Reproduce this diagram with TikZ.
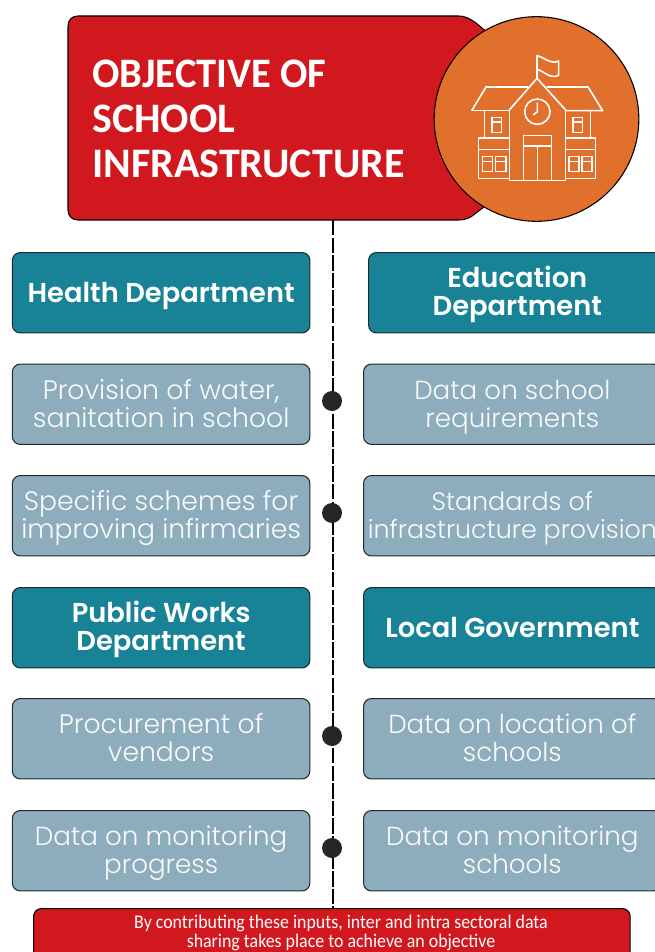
\documentclass[tikz,border=0pt]{standalone}
\usepackage{fontspec}
\setmainfont{Poppins Light}[BoldFont=Poppins SemiBold]
\newfontfamily\titlefont{Carlito}
\newfontfamily\footfont[FakeStretch=0.925]{Carlito}
\definecolor{redfill}{HTML}{D1181F}
\definecolor{tealfill}{HTML}{188296}
\definecolor{greyfill}{HTML}{8EADBC}
\definecolor{orangefill}{HTML}{E2702D}
\definecolor{edgeink}{HTML}{1F2A30}
\newcommand{\ts}{\rule{0pt}{1.01\baselineskip}}
\newcommand{\tsone}{\rule{0pt}{1.05\baselineskip}}
\newcommand{\botstrut}{\rule[-0.35\baselineskip]{0pt}{0.35\baselineskip}}
\tikzset{
  px/.style={x=0.75pt,y=-0.75pt},
  cardbase/.style={draw=edgeink,line width=0.8pt,rounded corners=6pt,inner sep=0pt,align=center,text=white,anchor=north west,minimum width=223.2pt,minimum height=60.3pt,execute at end node=\botstrut},
  headcard/.style={cardbase,fill=tealfill,font=\fontsize{20.5}{21}\selectfont\bfseries},
  infocard/.style={cardbase,fill=greyfill,font=\fontsize{20}{21}\selectfont,text=white!94!greyfill},
  infotight/.style={infocard,font=\fontsize{19.6}{21}\selectfont},
  spine/.style={line width=1.7pt,dash pattern=on 11.5pt off 1.7pt},
  spinedot/.style={circle,fill=black!85,draw=none,minimum size=15pt,inner sep=0pt},
  icon/.style={draw=white,line width=1.2pt,line join=round,fill=none},
}
\begin{document}
\begin{tikzpicture}[px]
\useasboundingbox (0,0) rectangle (655,952);
% title panel
\draw[draw=black,line width=0.8pt,fill=redfill] (78,16) -- (458,16) .. controls (466,16) and (470,19) .. (476,23) -- (520,60) -- (520,180) -- (476,213) .. controls (470,218) and (466,220) .. (458,220) -- (78,220) .. controls (72,220) and (68,216) .. (68,210) -- (68,26) .. controls (68,20) and (72,16) .. (78,16) -- cycle;
\coordinate (spineTop) at (333,220);
\node[anchor=west,align=left,text=white,inner sep=0pt,font=\titlefont\fontsize{31.5}{33.5}\selectfont\bfseries] (title) at (92,119) {\scalebox{0.965}[1]{OBJECTIVE OF}\\SCHOOL\\INFRASTRUCTURE};
\node[circle,draw=black,line width=0.8pt,fill=orangefill,minimum size=153.5pt,inner sep=0pt] (badge) at (536.5,119) {};
% footer
\begin{scope}
\clip (0,0) rectangle (655,952);
\node[cardbase,fill=redfill,draw=black,minimum width=447.5pt,minimum height=45pt,execute at end node={}] (foot) at (33,908) {};
\end{scope}
\node[align=center,text=white,inner sep=0pt,font=\footfont\fontsize{14.5}{13.6}\selectfont] (footText) at (341,933) {By contributing these inputs, inter and intra sectoral data\\sharing takes place to achieve an objective};
% spine
\draw[spine] (spineTop) -- (foot.north -| spineTop);
% cards
\begin{scope}
\clip (0,0) rectangle (655,952);
\node[headcard] (health) at (11.8,252) {\tsone Health Department};
\node[infocard] (water) at (11.8,363.5) {\ts Provision of water,\\sanitation in school};
\node[infocard] (schemes) at (11.8,475) {\ts Specific schemes for\\improving infirmaries};
\node[headcard] (works) at (11.8,587) {\ts Public Works\\Department};
\node[infocard] (vendors) at (11.8,698) {\ts Procurement of\\vendors};
\node[infotight] (progress) at (11.8,810) {\ts Data on monitoring\\progress};
\node[headcard] (edu) at (368,252) {\ts Education\\Department};
\node[infotight] (reqs) at (363,363.5) {\ts Data on school\\requirements};
\node[infocard,font=\fontsize{19}{21}\selectfont] (standards) at (363,475) {\ts Standards of\\infrastructure provision};
\node[headcard] (local) at (363,587) {\tsone Local Government};
\node[infotight] (location) at (363,698) {\ts Data on location of\\schools};
\node[infotight] (monitor) at (363,810) {\ts Data on monitoring\\schools};
\end{scope}
% dots
\node[spinedot] (d1) at (332,401) {};
\node[spinedot] (d2) at (332,513) {};
\node[spinedot] (d3) at (332,736) {};
\node[spinedot] (d4) at (332,848) {};
% school icon (units: 3 per pixel)
\begin{scope}[shift={(420,0)},x=0.25pt,y=-0.25pt,icon]
\draw (155,332) -- (198,261) -- (325,261);
\draw (380,261) -- (504,261) -- (548,332) -- (437,332);
\draw (155,332) -- (268,332);
\draw (268,330) -- (351,235) -- (437,330);
\draw (268,330) -- (268,542) -- (437,542) -- (437,330);
\draw (351,235) -- (351,167) .. controls (375,172) and (390,195) .. (416,183) -- (416,226) .. controls (390,238) and (375,215) .. (351,208);
\draw (352,335) circle (38);
\draw (352,308) -- (352,335) -- (340,345);
\draw (193,332) -- (193,414);
\draw (511,332) -- (511,414);
\draw (176,414) rectangle (268,536);
\draw (176,448) -- (268,448);
\draw (437,414) rectangle (527,536);
\draw (437,448) -- (527,448);
\draw (216,352) rectangle (245,397);
\draw (216,366) -- (245,366);
\draw (459,352) rectangle (488,397);
\draw (459,366) -- (488,366);
\draw (188,470) rectangle (218,514);
\draw (188,484) -- (218,484);
\draw (227,470) rectangle (258,514);
\draw (227,484) -- (258,484);
\draw (447,470) rectangle (477,514);
\draw (447,484) -- (477,484);
\draw (486,470) rectangle (516,514);
\draw (486,484) -- (516,484);
\draw (311,542) -- (311,406) -- (395,406) -- (395,542);
\draw (311,438) -- (395,438);
\draw (353,438) -- (353,542);
\end{scope}
\end{tikzpicture}
\end{document}
